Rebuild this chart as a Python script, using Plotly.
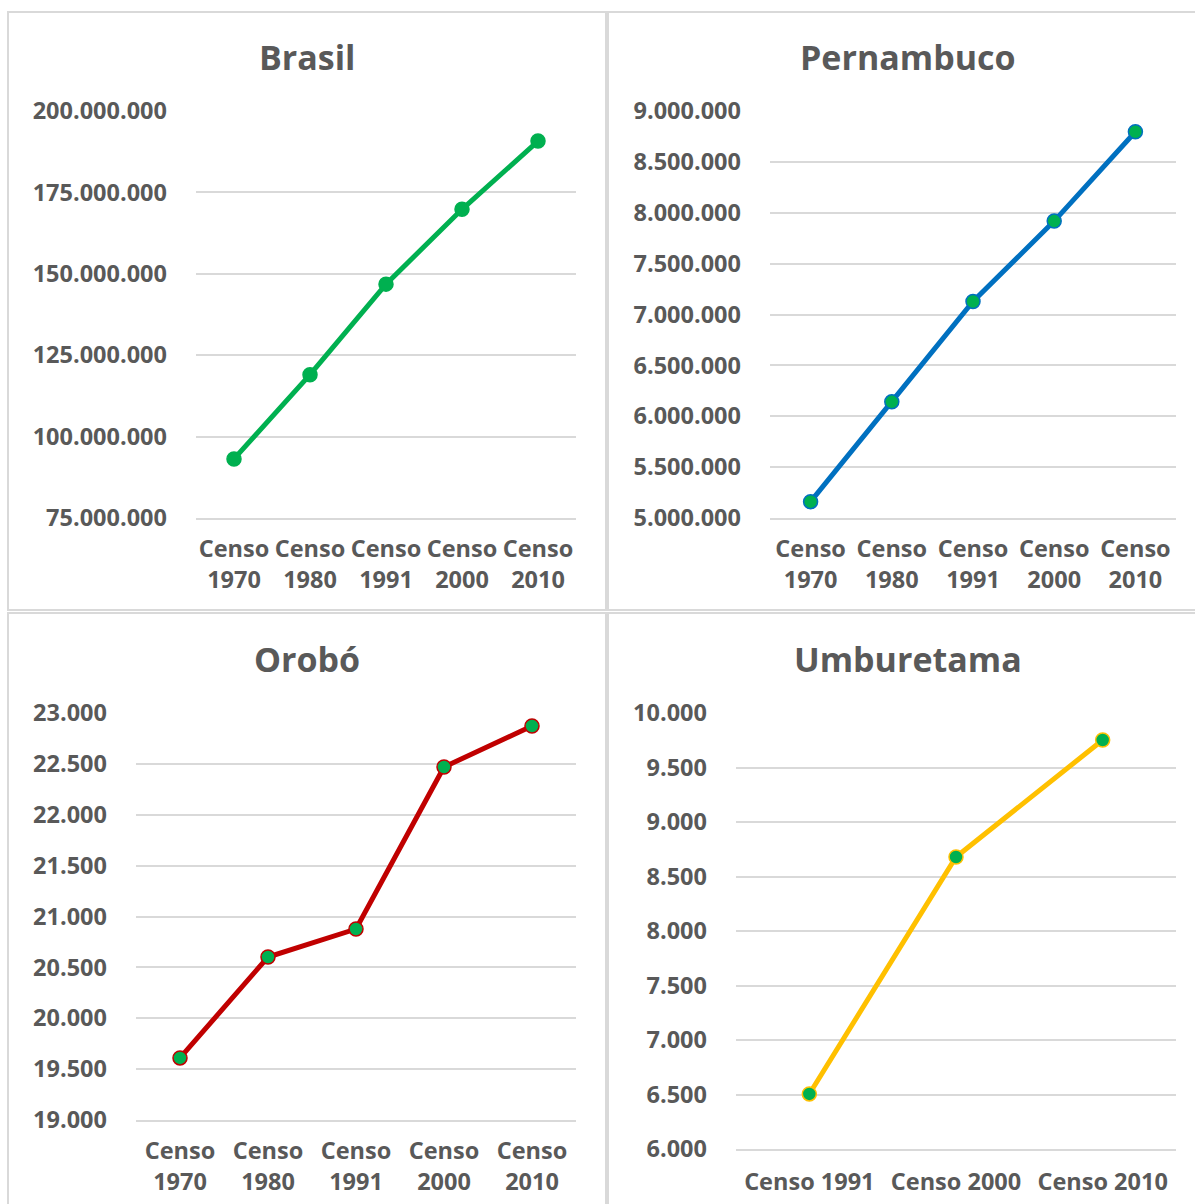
import plotly.graph_objects as go

W, H = 1195, 1204

# Census categories
censos_5 = ["Censo 1970", "Censo 1980", "Censo 1991", "Censo 2000", "Censo 2010"]
censos_3 = ["Censo 1991", "Censo 2000", "Censo 2010"]

# Resident population per census
brasil = [93134846, 119011052, 146825475, 169799170, 190755799]
pernambuco = [5160640, 6141993, 7127855, 7918344, 8796448]
orobo = [19610, 20602, 20877, 22469, 22872]
umburetama = [6505, 8679, 9752]

GREEN = "#00B050"
TEXT = "#595959"
GRID = "#D9D9D9"
FONT = "Open Sans"


def px_x(x):
    return x / W


def px_y(y):
    return 1 - y / H


panels = [
    # title, categories, values, line colour, plot box (x0, x1, y_top, y_bottom), y range, dtick, title pos, two-line labels
    ("Brasil", censos_5, brasil, GREEN, (196, 576, 111, 518), (75e6, 200e6), 25e6, (307, 57), True),
    ("Pernambuco", censos_5, pernambuco, "#0070C0", (770, 1176, 111, 518), (5e6, 9e6), 5e5, (908, 57), True),
    ("Orobó", censos_5, orobo, "#C00000", (136, 576, 713, 1120), (19000, 23000), 500, (307, 659), True),
    ("Umburetama", censos_3, umburetama, "#FFC000", (736, 1176, 713, 1149), (6000, 10000), 500, (908, 659), False),
]

fig = go.Figure()
layout = {}
annotations = []

for i, (title, cats, vals, color, box, yr, dt, tpos, two_line) in enumerate(panels, start=1):
    xa = "x" if i == 1 else f"x{i}"
    ya = "y" if i == 1 else f"y{i}"
    idx = list(range(len(cats)))
    fig.add_trace(go.Scatter(
        x=idx, y=vals, xaxis=xa, yaxis=ya, mode="lines+markers",
        line=dict(color=color, width=5),
        marker=dict(symbol="circle", size=14, color=GREEN, line=dict(color=color, width=1.5)),
        showlegend=False, hoverinfo="skip", cliponaxis=False,
    ))
    x0, x1, yt, yb = box
    labels = [c.replace(" ", "<br>") if two_line else c for c in cats]
    layout["xaxis" if i == 1 else f"xaxis{i}"] = dict(
        domain=[px_x(x0), px_x(x1)], anchor=ya, automargin=False,
        range=[-0.5, len(cats) - 0.5], tickmode="array", tickvals=idx, ticktext=labels,
        showgrid=False, zeroline=False, ticks="",
        showline=True, linecolor=GRID, linewidth=1.5,
        ticklabelstandoff=9 if two_line else 11,
        tickfont=dict(family=FONT, size=23.5, color=TEXT, weight="bold"),
        fixedrange=True,
    )
    layout["yaxis" if i == 1 else f"yaxis{i}"] = dict(
        domain=[px_y(yb), px_y(yt)], anchor=xa, automargin=False,
        range=list(yr), tick0=yr[0], dtick=dt, tickformat=",d",
        showgrid=True, gridcolor=GRID, gridwidth=1.5, zeroline=False, showline=False, ticks="",
        ticklabelstandoff=28,
        tickfont=dict(family=FONT, size=23.5, color=TEXT, weight="bold"),
        fixedrange=True,
    )
    annotations.append(dict(
        text=title, x=px_x(tpos[0]), y=px_y(tpos[1]), xref="paper", yref="paper",
        xanchor="center", yanchor="middle", showarrow=False,
        font=dict(family=FONT, size=34, color=TEXT, weight="bold"),
    ))

# Frames around each chart
frames = [(8, 12, 606, 610), (608, 12, 1196, 610), (8, 613, 606, 1206), (608, 613, 1196, 1206)]
shapes = [
    dict(type="rect", xref="paper", yref="paper",
         x0=px_x(a), y0=px_y(d), x1=px_x(c), y1=px_y(b),
         line=dict(color=GRID, width=2), fillcolor="rgba(0,0,0,0)", layer="below")
    for a, b, c, d in frames
]

fig.update_layout(
    width=W, height=H, margin=dict(l=0, r=0, t=0, b=0, autoexpand=False),
    paper_bgcolor="white", plot_bgcolor="white",
    separators=",.",
    annotations=annotations, shapes=shapes,
    **layout,
)

fig.write_html("out.html", config={"displayModeBar": False})
